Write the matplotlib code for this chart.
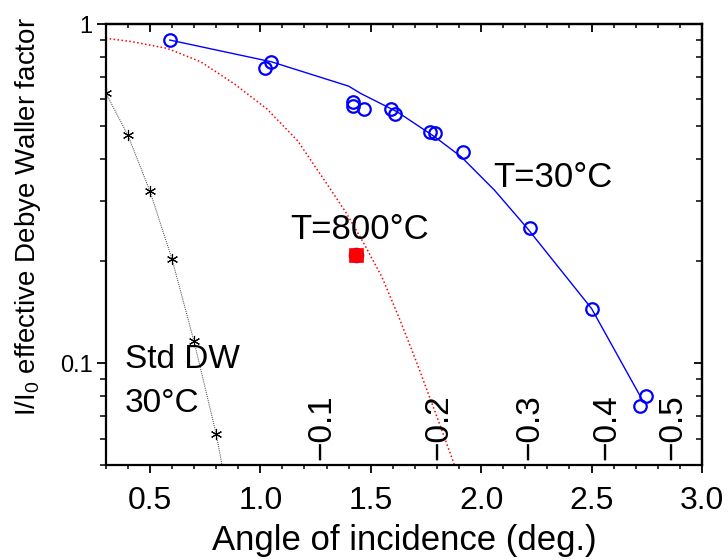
import matplotlib
matplotlib.use('Agg')
import matplotlib.pyplot as plt
from matplotlib.ticker import MultipleLocator, FixedLocator, FixedFormatter, LogLocator, NullFormatter, FormatStrFormatter

plt.rcParams['font.family'] = ['Liberation Sans', 'DejaVu Sans']
plt.rcParams['mathtext.fontset'] = 'custom'
plt.rcParams['mathtext.rm'] = 'Liberation Sans'
plt.rcParams['mathtext.it'] = 'Liberation Sans:italic'

# measured points, T = 30 C
meas_x = [0.59, 1.02, 1.05, 1.42, 1.42, 1.47, 1.59, 1.61, 1.77, 1.79, 1.92, 2.22, 2.50, 2.72, 2.745]
meas_y = [0.897, 0.740, 0.772, 0.573, 0.590, 0.560, 0.562, 0.543, 0.481, 0.478, 0.420, 0.2506, 0.145, 0.0747, 0.0799]

# fitted curve through the 30 C points
fit_x = [0.59, 1.05, 1.40, 1.455, 1.62, 1.79, 1.91, 2.06, 2.21, 2.50, 2.735]
fit_y = [0.897, 0.774, 0.656, 0.624, 0.551, 0.465, 0.406, 0.324, 0.2496, 0.145, 0.0769]

# calculated curve, T = 800 C
hot_curve_x = [0.30, 0.42, 0.58, 0.73, 0.88, 1.03, 1.17, 1.30, 1.39, 1.47, 1.55, 1.63, 1.71, 1.80, 1.88]
hot_curve_y = [0.908, 0.887, 0.847, 0.774, 0.668, 0.562, 0.452, 0.339, 0.277, 0.225, 0.180, 0.1355, 0.0998, 0.0695, 0.050]

# measured point, T = 800 C
hot_x = [1.433]
hot_y = [0.209]

# standard Debye-Waller factor, 30 C
std_x = [0.3, 0.4, 0.5, 0.6, 0.7, 0.8, 0.9]
std_y = [0.627, 0.471, 0.322, 0.203, 0.116, 0.062, 0.028]

# second scale written along the bottom
scale_pos = [1.28, 1.81, 2.22, 2.57, 2.87]
scale_labels = ['\u22120.1', '\u22120.2', '\u22120.3', '\u22120.4', '\u22120.5']

fig = plt.figure(figsize=(7.28, 5.6), dpi=100)
ax = fig.add_axes([0.1452, 0.1688, 0.8191, 0.7883])
ax.set_yscale('log')
ax.set_xlim(0.3, 3.0)
ax.set_ylim(0.05, 1)

ax.plot(std_x, std_y, color='#333333', lw=0.7, ls=(0, (1, 1.2)),
        marker=(6, 2, 0), ms=8, mew=0.8, mec='black', zorder=3)
ax.plot(hot_curve_x, hot_curve_y, color='red', lw=1.1, ls=(0, (1, 1.6)), zorder=2)
ax.plot(fit_x, fit_y, color='blue', lw=1.0, zorder=2)
ax.plot(meas_x, meas_y, ls='none', marker='o', ms=9, mfc='none', mec='blue', mew=1.6, zorder=4)
ax.plot(hot_x, hot_y, ls='none', marker='o', ms=10, mfc='none', mec='blue', mew=1.2, zorder=4)
ax.plot(hot_x, hot_y, ls='none', marker='s', ms=10, mfc='red', mec='red', mew=0.5, zorder=5)

# ticks
ax.xaxis.set_major_locator(MultipleLocator(0.5))
ax.xaxis.set_minor_locator(MultipleLocator(0.1))
ax.xaxis.set_major_formatter(FormatStrFormatter('%.1f'))
ax.yaxis.set_major_locator(FixedLocator([0.1, 1]))
ax.yaxis.set_major_formatter(FixedFormatter(['0.1', '1']))
ax.yaxis.set_minor_locator(LogLocator(base=10, subs=range(2, 10)))
ax.yaxis.set_minor_formatter(NullFormatter())

ax.tick_params(axis='x', which='major', direction='out', length=6, width=1.3, labelsize=23, pad=9)
ax.tick_params(axis='x', which='minor', direction='out', length=3, width=1.1)
ax.tick_params(axis='y', which='major', direction='out', length=6.5, width=1.3, labelsize=17, pad=3)
ax.tick_params(axis='y', which='minor', direction='out', length=4, width=1.1)
ax.tick_params(top=False, right=False)
for s in ax.spines.values():
    s.set_linewidth(1.6)

top = ax.secondary_xaxis('top')
top.xaxis.set_major_locator(MultipleLocator(0.5))
top.xaxis.set_minor_locator(MultipleLocator(0.1))
top.tick_params(which='major', direction='in', length=6, width=1.3, labeltop=False)
top.tick_params(which='minor', direction='in', length=3, width=1.1)
top.spines['top'].set_linewidth(1.6)

right = ax.secondary_yaxis('right')
right.yaxis.set_major_locator(FixedLocator([0.1, 1]))
right.yaxis.set_minor_locator(LogLocator(base=10, subs=range(2, 10)))
right.tick_params(which='major', direction='in', length=6, width=1.3, labelright=False)
right.tick_params(which='minor', direction='in', length=4.5, width=1.1)
right.yaxis.set_minor_formatter(NullFormatter())
right.spines['right'].set_linewidth(1.6)

# rotated labels of the second scale
for p, lab in zip(scale_pos, scale_labels):
    ax.text(p, 0.012, lab, transform=ax.get_xaxis_transform(), rotation=90,
            ha='center', va='bottom', fontsize=24)

ax.text(2.053, 0.331, 'T=30°C', fontsize=25, ha='left', va='baseline')
ax.text(1.136, 0.233, 'T=800°C', fontsize=25, ha='left', va='baseline')
ax.text(0.386, 0.0969, 'Std DW', fontsize=24, ha='left', va='baseline')
ax.text(0.386, 0.0718, '30°C', fontsize=24, ha='left', va='baseline')

fig.text(404 / 728, 1 - 550 / 560, 'Angle of incidence (deg.)', fontsize=25,
         ha='center', va='baseline')
fig.text(35 / 728, 1 - 217 / 560, r'I/I$_0$ effective Debye Waller factor', fontsize=20,
         rotation=90, rotation_mode='anchor', ha='center', va='baseline')

fig.savefig('out.png', dpi=100)
